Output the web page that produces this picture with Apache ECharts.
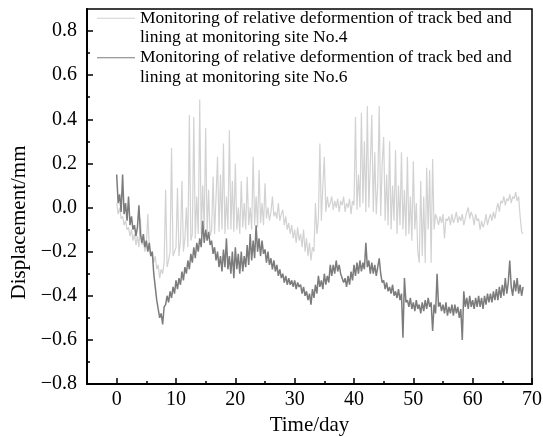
<!DOCTYPE html>
<html>
<head>
<meta charset="utf-8">
<script src="https://cdn.jsdelivr.net/npm/echarts@6/dist/echarts.min.js"></script>
<style>
html,body{margin:0;padding:0;background:#fff;}
#chart{width:543px;height:437px;}
</style>
</head>
<body>
<div id="chart"></div>
<script>
// Monitoring sampled every 0.25 day (6 h), starting at day 0
const startDay = 0;
const sampleStep = 0.25;

const seriesNames = [
  'Monitoring of relative deformention of track bed and\nlining at monitoring site No.4',
  'Monitoring of relative deformention of track bed and\nlining at monitoring site No.6'
];

// Site No.4 (light grey)
const site4 = [
  0.02,-0.03,0.00,-0.05,   -0.04,-0.08,-0.06,-0.10,   -0.09,-0.13,-0.10,-0.15,   -0.12,-0.17,-0.13,-0.18,
  -0.05,-0.17,-0.15,-0.20, -0.17,-0.03,-0.18,-0.22,   -0.20,-0.25,-0.22,-0.28,   -0.26,-0.32,-0.28,-0.30,
  -0.25,0.08,-0.27,-0.24,  -0.20,0.27,-0.22,-0.20,    -0.18,0.09,-0.22,-0.15,    0.12,-0.20,-0.14,0.00,
  -0.18,0.42,-0.15,-0.12,  0.41,-0.14,0.05,-0.12,     0.49,-0.12,0.10,-0.10,     0.36,-0.12,0.08,-0.13,
  -0.10,0.14,-0.12,0.05,   0.23,-0.11,0.15,-0.10,     0.29,-0.12,0.05,-0.10,     0.35,-0.10,0.12,-0.11,
  0.20,-0.10,0.00,-0.12,   0.12,-0.09,0.02,-0.10,     0.14,-0.08,0.00,-0.10,     0.23,-0.08,0.05,-0.09,
  0.17,-0.07,0.02,-0.08,   0.11,-0.05,0.00,-0.06,     -0.02,0.05,-0.04,-0.02,    -0.05,0.02,-0.06,-0.03,
  -0.01,-0.08,-0.04,-0.10, -0.07,-0.12,-0.08,-0.14,   -0.10,-0.16,-0.09,-0.15,   -0.12,-0.18,-0.10,-0.20,
  -0.14,-0.22,-0.16,-0.24, -0.18,-0.20,0.02,-0.12,    -0.05,0.29,-0.06,0.10,     0.23,-0.02,0.05,0.00,
  0.02,0.05,-0.01,0.03,    0.00,0.04,-0.02,0.03,      0.01,0.05,-0.02,0.02,      0.00,0.04,-0.03,0.03,
  0.01,0.41,-0.01,0.15,    0.00,0.43,0.02,0.30,       -0.02,0.46,0.00,0.20,      0.42,-0.02,0.25,-0.03,
  0.10,0.46,-0.04,0.20,    0.32,-0.06,0.15,-0.08,     0.30,-0.10,0.10,-0.06,     0.26,-0.12,0.10,-0.08,
  0.25,-0.10,0.08,-0.13,   0.23,-0.12,0.05,-0.15,     0.21,-0.10,0.02,-0.20,     -0.25,0.12,-0.22,0.05,
  -0.25,0.18,-0.10,0.17,   -0.25,0.22,-0.10,-0.03,    -0.05,-0.08,-0.04,-0.07,   -0.03,-0.14,-0.05,-0.06,
  -0.04,-0.08,-0.03,-0.07, -0.05,-0.02,-0.07,-0.04,   -0.06,-0.03,-0.08,-0.05,   -0.02,0.00,-0.05,-0.02,
  -0.04,-0.08,-0.03,-0.06, -0.05,-0.10,-0.06,-0.09,   -0.07,-0.03,-0.08,-0.05,   -0.03,-0.06,-0.02,-0.05,
  -0.01,0.02,-0.02,0.03,   0.02,0.05,0.01,0.04,       0.03,0.06,0.02,0.05,       0.04,0.07,0.03,0.05,
  -0.04,-0.11,-0.12
];

// Site No.6 (dark grey)
const site6 = [
  0.15,0.02,0.06,-0.02,    0.15,-0.03,0.02,-0.06,     0.05,-0.08,-0.04,-0.10,    -0.08,-0.13,-0.09,0.01,
  -0.12,-0.16,-0.12,-0.18, -0.15,-0.20,-0.16,-0.22,   -0.20,-0.30,-0.36,-0.42,   -0.46,-0.50,-0.48,-0.53,
  -0.45,-0.44,-0.40,-0.43, -0.38,-0.41,-0.36,-0.39,   -0.33,-0.37,-0.32,-0.35,   -0.29,-0.33,-0.27,-0.30,
  -0.24,-0.28,-0.21,-0.25, -0.18,-0.23,-0.16,-0.20,   -0.14,-0.18,-0.06,-0.16,   -0.10,-0.15,-0.11,-0.17,
  -0.15,-0.21,-0.18,-0.24, -0.20,-0.27,-0.22,-0.29,   -0.19,-0.27,-0.14,-0.28,   -0.22,-0.30,-0.20,-0.32,
  -0.18,-0.28,-0.21,-0.30, -0.20,-0.29,-0.22,-0.27,   -0.17,-0.26,-0.12,-0.24,   -0.15,-0.23,-0.08,-0.20,
  -0.14,-0.22,-0.15,-0.21, -0.19,-0.25,-0.20,-0.26,   -0.23,-0.28,-0.24,-0.29,   -0.26,-0.31,-0.28,-0.32,
  -0.30,-0.34,-0.31,-0.35, -0.32,-0.35,-0.33,-0.36,   -0.33,-0.37,-0.34,-0.36,   -0.35,-0.39,-0.36,-0.40,
  -0.38,-0.42,-0.39,-0.44, -0.37,-0.41,-0.35,-0.39,   -0.31,-0.36,-0.33,-0.37,   -0.30,-0.35,-0.31,-0.34,
  -0.26,-0.31,-0.26,-0.30, -0.24,-0.29,-0.26,-0.30,   -0.30,-0.34,-0.32,-0.36,   -0.31,-0.35,-0.29,-0.33,
  -0.26,-0.31,-0.25,-0.30, -0.24,-0.29,-0.25,-0.28,   -0.16,-0.27,-0.24,-0.30,   -0.25,-0.30,-0.26,-0.31,
  -0.27,-0.23,-0.30,-0.34, -0.33,-0.37,-0.34,-0.38,   -0.36,-0.39,-0.35,-0.40,   -0.38,-0.41,-0.37,-0.42,
  -0.39,-0.59,-0.32,-0.43, -0.42,-0.45,-0.41,-0.46,   -0.43,-0.47,-0.42,-0.46,   -0.44,-0.48,-0.43,-0.47,
  -0.42,-0.46,-0.41,-0.45, -0.43,-0.56,-0.44,-0.48,   -0.30,-0.45,-0.43,-0.47,   -0.44,-0.48,-0.43,-0.49,
  -0.45,-0.48,-0.44,-0.49, -0.44,-0.48,-0.45,-0.50,   -0.46,-0.60,-0.38,-0.45,   -0.41,-0.46,-0.40,-0.45,
  -0.42,-0.46,-0.41,-0.45, -0.40,-0.45,-0.41,-0.46,   -0.40,-0.44,-0.39,-0.43,   -0.39,-0.43,-0.38,-0.42,
  -0.37,-0.42,-0.36,-0.41, -0.35,-0.40,-0.32,-0.39,   -0.34,-0.24,-0.36,-0.40,   -0.33,-0.38,-0.32,-0.39,
  -0.35,-0.40,-0.36
];

const xTicks = [0, 10, 20, 30, 40, 50, 60, 70];
const xMinorTicks = [5, 15, 25, 35, 45, 55, 65];
const yTicks = [-0.8, -0.6, -0.4, -0.2, 0.0, 0.2, 0.4, 0.6, 0.8];
const yMinorTicks = [-0.7, -0.5, -0.3, -0.1, 0.1, 0.3, 0.5, 0.7];

const colors = ['#d2d2d2', '#7c7c7c'];
const FONT = '"Liberation Serif","Times New Roman",serif';

function toPairs(arr) {
  return arr.map((v, i) => [startDay + i * sampleStep, v]);
}

const chart = echarts.init(document.getElementById('chart'), null, {renderer: 'canvas'});

const xBase = {type: 'value', min: -5, max: 70, gridIndex: 0, position: 'bottom', splitLine: {show: false}};
const yBase = {type: 'value', min: -0.8, max: 0.9, gridIndex: 0, position: 'left', splitLine: {show: false}};

chart.setOption({
  animation: false,
  backgroundColor: '#fff',
  grid: {left: 87, right: 11, top: 9, bottom: 53, containLabel: false, outerBoundsMode: 'none',
    show: true, borderColor: '#000', borderWidth: 1.5, backgroundColor: 'transparent'},
  legend: {
    show: true,
    orient: 'vertical',
    left: 97,
    top: -11,
    padding: 0,
    itemGap: -19,
    itemWidth: 38,
    itemHeight: 1.2,
    icon: 'rect',
    selectedMode: false,
    formatter: name => '\n' + name,
    textStyle: {fontFamily: FONT, fontSize: 17.5, color: '#000', lineHeight: 19.5},
    data: seriesNames
  },
  xAxis: [
    Object.assign({}, xBase, {
      name: 'Time/day', nameLocation: 'middle', nameGap: 28,
      nameTextStyle: {fontFamily: FONT, fontSize: 21, color: '#000'},
      axisLine: {show: true, onZero: false, lineStyle: {color: '#000', width: 2}},
      axisTick: {show: true, inside: true, length: 6, customValues: xTicks, lineStyle: {color: '#000', width: 1.5}},
      axisLabel: {show: true, customValues: xTicks, margin: 6, fontFamily: FONT, fontSize: 20, color: '#000'}
    }),
    Object.assign({}, xBase, {
      axisLine: {show: false, onZero: false},
      axisTick: {show: true, inside: true, length: 3, customValues: xMinorTicks, lineStyle: {color: '#000', width: 1.5}},
      axisLabel: {show: false}
    })
  ],
  yAxis: [
    Object.assign({}, yBase, {
      name: 'Displacement/mm', nameLocation: 'middle', nameGap: 57,
      nameTextStyle: {fontFamily: FONT, fontSize: 21, color: '#000', padding: [0, 52, 0, 0]},
      axisLine: {show: true, onZero: false, lineStyle: {color: '#000', width: 2}},
      axisTick: {show: true, inside: true, length: 6, customValues: yTicks, lineStyle: {color: '#000', width: 1.5}},
      axisLabel: {show: true, customValues: yTicks, margin: 10, fontFamily: FONT, fontSize: 20, color: '#000',
        formatter: v => Number(v).toFixed(1).replace('-', '\u2212')}
    }),
    Object.assign({}, yBase, {
      axisLine: {show: false, onZero: false},
      axisTick: {show: true, inside: true, length: 3, customValues: yMinorTicks, lineStyle: {color: '#000', width: 1.5}},
      axisLabel: {show: false}
    })
  ],
  series: [
    {
      name: seriesNames[0], type: 'line', xAxisIndex: 0, yAxisIndex: 0,
      data: toPairs(site4), showSymbol: false, symbol: 'none',
      lineStyle: {color: colors[0], width: 1.2}, itemStyle: {color: colors[0]}, z: 2
    },
    {
      name: seriesNames[1], type: 'line', xAxisIndex: 0, yAxisIndex: 0,
      data: toPairs(site6), showSymbol: false, symbol: 'none',
      lineStyle: {color: colors[1], width: 1.5}, itemStyle: {color: colors[1]}, z: 3
    }
  ]
});
</script>
</body>
</html>
